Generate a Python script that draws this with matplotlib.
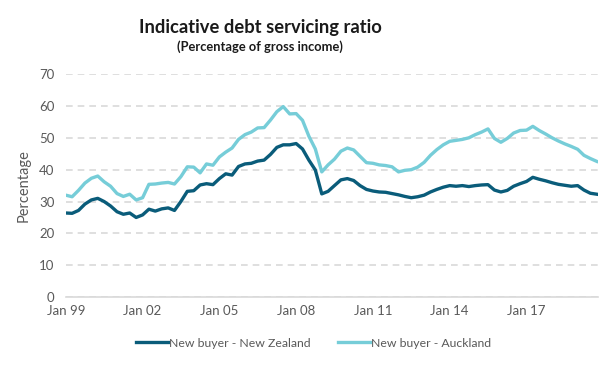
import matplotlib
matplotlib.use('Agg')
import matplotlib.pyplot as plt
import matplotlib.dates as mdates
import pandas as pd

plt.rcParams['font.family'] = ['Lato', 'DejaVu Sans']

# Quarterly readings, Jan 1999 to Oct 2019 (percentage of gross income)
start = '1999-01-01'
nz_values = [
    26.4, 26.3, 27.2, 29.2, 30.5, 31.0, 30.0, 28.6, 26.8, 26.0, 26.4, 25.0,
    25.8, 27.6, 27.0, 27.7, 28.0, 27.2, 30.0, 33.2, 33.4, 35.2, 35.6, 35.3,
    37.2, 38.7, 38.3, 41.0, 41.8, 42.0, 42.7, 43.0, 44.8, 47.0, 47.8, 47.8,
    48.2, 46.5, 43.0, 39.9, 32.4, 33.2, 35.0, 36.8, 37.2, 36.6, 35.0, 33.8,
    33.3, 33.0, 32.9, 32.5, 32.1, 31.6, 31.2, 31.5, 32.0, 33.0, 33.8, 34.5,
    35.0, 34.8, 35.0, 34.7, 35.0, 35.2, 35.3, 33.6, 33.0, 33.5, 34.8, 35.6,
    36.3, 37.6, 37.0, 36.5, 35.9, 35.4, 35.1, 34.8, 35.0, 33.6, 32.6, 32.3,
]
akl_values = [
    32.0, 31.5, 33.5, 35.8, 37.3, 38.0, 36.2, 34.8, 32.5, 31.6, 32.3, 30.5,
    31.2, 35.4, 35.5, 35.8, 36.0, 35.5, 37.8, 40.9, 40.8, 39.0, 41.8, 41.4,
    44.0, 45.5, 46.8, 49.5, 51.0, 51.8, 53.1, 53.2, 55.6, 58.2, 59.8, 57.5,
    57.6, 55.5, 50.5, 46.5, 39.3, 41.5, 43.3, 45.8, 46.8, 46.2, 44.2, 42.2,
    42.0, 41.5, 41.3, 40.9, 39.3, 39.8, 40.0, 40.8, 42.3, 44.5, 46.3, 47.8,
    48.9, 49.2, 49.5, 50.0, 51.0, 51.8, 52.8, 49.8, 48.6, 49.8, 51.5, 52.3,
    52.4, 53.6, 52.3, 51.2, 50.0, 49.0, 48.1, 47.3, 46.4, 44.5, 43.5, 42.6,
]
tick_years = [1999, 2002, 2005, 2008, 2011, 2014, 2017]
labels = ['New buyer - New Zealand', 'New buyer - Auckland']
colors = ['#0a5c7a', '#76cdd8']

dates = pd.date_range(start, periods=len(nz_values), freq='QS')

fig = plt.figure(figsize=(6.15, 3.65), dpi=100)
ax = fig.add_axes([0.107, 0.186, 0.865, 0.611])

ax.plot(dates, nz_values, color=colors[0], lw=2.4, label=labels[0])
ax.plot(dates, akl_values, color=colors[1], lw=2.4, label=labels[1])

ax.set_ylim(0, 70)
ax.set_yticks(range(0, 71, 10))
ax.set_xlim(pd.Timestamp('1999-01-01'), pd.Timestamp('2019-10-15'))
ax.set_xticks([pd.Timestamp(f'{y}-01-01') for y in tick_years])
ax.xaxis.set_major_formatter(mdates.DateFormatter('Jan %y'))

ax.grid(axis='y', color='#d9d9d9', lw=1.2, linestyle=(0, (4, 3)))
ax.set_axisbelow(True)
for s in ['top', 'right', 'left']:
    ax.spines[s].set_visible(False)
ax.spines['bottom'].set_color('#d9d9d9')
ax.spines['bottom'].set_linewidth(1.2)
ax.tick_params(axis='both', length=0, labelsize=9.5, labelcolor='#595959')
ax.tick_params(axis='x', pad=6)
ax.tick_params(axis='y', pad=8)
ax.set_ylabel('Percentage', fontsize=10.5, color='#595959', labelpad=6)

fig.text(0.423, 0.926, 'Indicative debt servicing ratio', ha='center', va='center',
         fontsize=13.2, fontweight='bold', color='#1a1a1a')
fig.text(0.423, 0.872, '(Percentage of gross income)', ha='center', va='center',
         fontsize=9.3, fontweight='bold', color='#1a1a1a')

fig.legend(loc='center', bbox_to_anchor=(0.51, 0.06), ncol=2, frameon=False,
           fontsize=8.8, labelcolor='#595959', handlelength=2.6, handletextpad=0.1,
           columnspacing=2.2)

fig.savefig('out.png', dpi=100)
